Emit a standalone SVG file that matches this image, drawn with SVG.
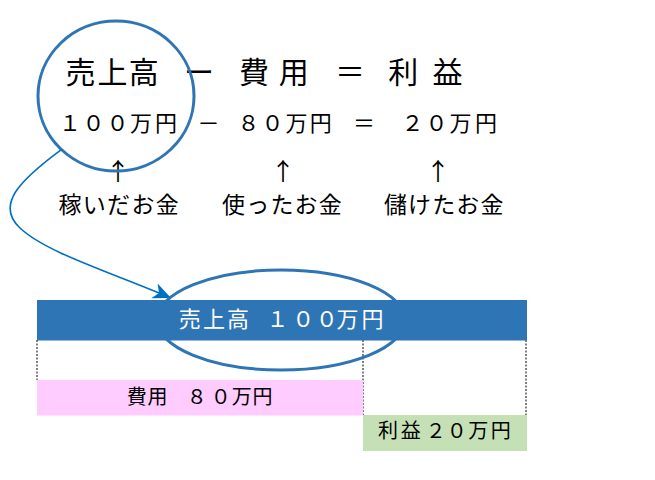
<svg xmlns="http://www.w3.org/2000/svg" width="655" height="480" viewBox="0 0 655 480">
<style>
  text { font-family: "Noto Sans CJK JP", "Noto Sans", sans-serif; fill: #000; text-anchor: middle; }
  .t1 { font-size: 30px; }
  .t2 { font-size: 22px; }
  .t3 { font-size: 23px; }
  .arw { font-size: 24px; }
  .ring { fill: none; stroke: #2E75B6; stroke-width: 3; }
  .dot { stroke: #000; stroke-width: 1; stroke-dasharray: 2 1.5; fill: none; }
  .conn { fill: none; stroke: #0070C0; stroke-width: 1.6; }
</style>
<defs>
  <marker id="ah" markerUnits="userSpaceOnUse" markerWidth="20" markerHeight="20" viewBox="0 0 20 20" refX="18" refY="10" orient="auto">
    <path d="M0,2 L18,10 L0,18 L5,10 Z" fill="#0070C0"/>
  </marker>
</defs>
<rect width="655" height="480" fill="#fff"/>

<g id="formula">
  <text class="t1" x="80.5 112.5 143.7" y="83">売上高</text>
  <text class="t1" x="199" y="83">ー</text>
  <text class="t1" x="254 274 293.8" y="83">費 用</text>
  <text class="t1" x="350" y="83">＝</text>
  <text class="t1" x="403.3 425 447.5" y="83">利 益</text>

  <text class="t2" x="70 93.5 117.5 141 166" y="131">１００万円</text>
  <text class="t2" x="208.5" y="131">－</text>
  <text class="t2" x="248.5 272.5 296.5 320.7" y="131">８０万円</text>
  <text class="t2" x="364" y="131">＝</text>
  <text class="t2" x="412.5 436.5 460.5 486" y="131">２０万円</text>
</g>

<g id="arrows">
  <text class="arw" x="118" y="180">↑</text>
  <text class="arw" x="283" y="180">↑</text>
  <text class="arw" x="438" y="180">↑</text>
</g>

<g id="labels">
  <text class="t3" x="70 94.3 118.6 142.9 167.2" y="213">稼いだお金</text>
  <text class="t3" x="233.5 257.7 281.9 306.1 330.3" y="213">使ったお金</text>
  <text class="t3" x="395.5 419.6 443.7 467.8 492" y="213">儲けたお金</text>
</g>

<g id="highlight-circle">
  <ellipse class="ring" cx="116" cy="96" rx="78" ry="75"/>
</g>

<g id="connectors">
  <path class="conn" d="M61.7,149.3 C20,180 -5,205 20,228 C45,252 110,272 171,298" marker-end="url(#ah)"/>
</g>

<g id="guides">
  <line class="dot" x1="37" y1="340" x2="37" y2="380"/>
  <line class="dot" x1="363" y1="340" x2="363" y2="415"/>
  <line class="dot" x1="526" y1="340" x2="526" y2="415"/>
</g>

<g id="expense-bar">
  <rect x="37" y="380" width="326" height="35.5" fill="#FFCCFF"/>
  <text style="font-size:20px" x="136.7 157.5 178 196.7 220.8 241.7 262.5" y="404">費用　８０万円</text>
</g>

<g id="profit-bar">
  <rect x="363" y="415" width="164" height="36" fill="#C5E0B4"/>
  <text style="font-size:20px" x="388 410.8 435.8 456.7 478.3 500.8" y="438">利益２０万円</text>
</g>

<g id="sales-bar">
  <rect x="37" y="300" width="490" height="40.5" fill="#2E75B6"/>
  <text class="t2" style="fill:#fff" x="189.8 213.9 238 258 277.5 303.3 326.7 347.5 372.5" y="327">売上高　１００万円</text>
</g>

<g id="highlight-ellipse">
  <ellipse class="ring" cx="281" cy="320" rx="124" ry="50"/>
</g>
</svg>
